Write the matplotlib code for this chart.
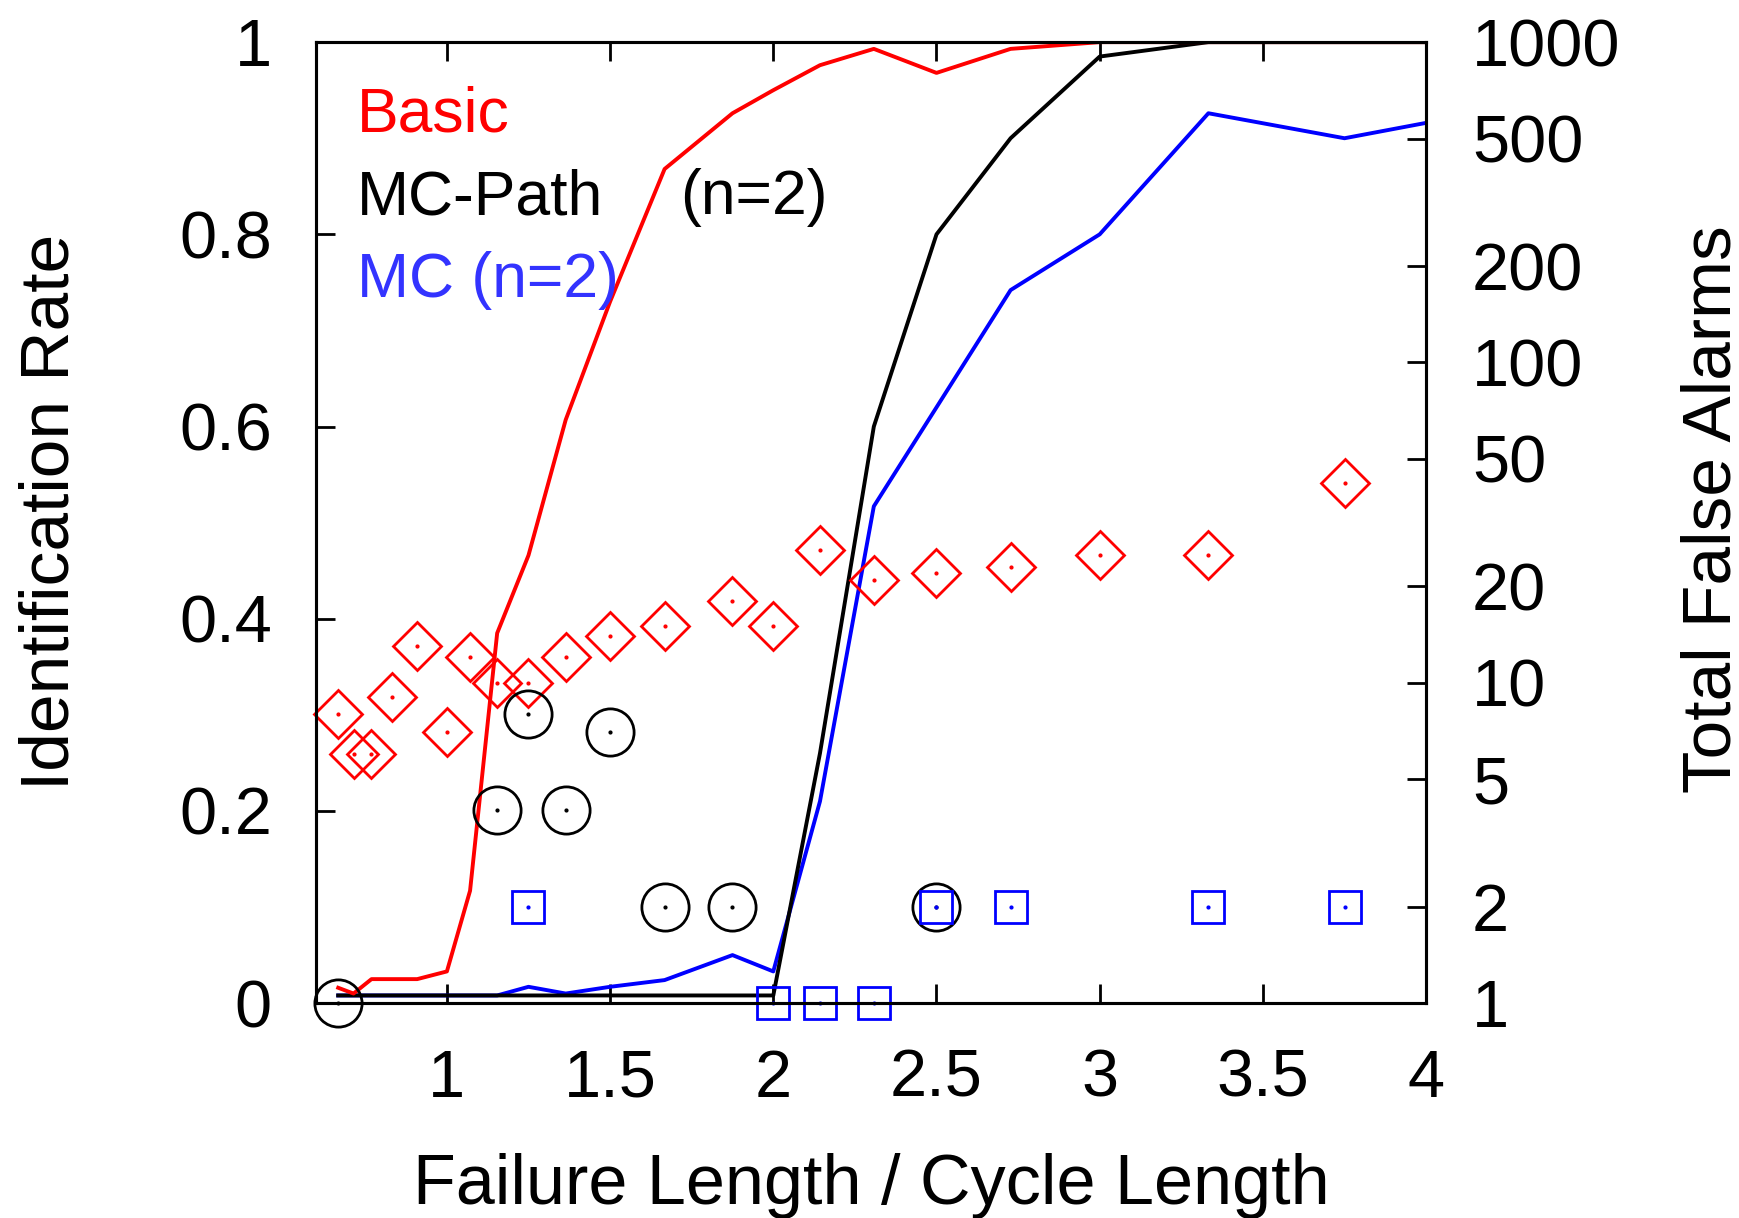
import matplotlib
matplotlib.use("Agg")
import matplotlib.pyplot as plt
from matplotlib.ticker import NullLocator

plt.rcParams['font.family'] = ['Liberation Sans', 'DejaVu Sans']

# x positions (failure length / cycle length) of the runs
fl_ratio = [0.667, 0.714, 0.769, 0.833, 0.909, 1.0, 1.071, 1.154, 1.25, 1.364, 1.5,
            1.667, 1.875, 2.0, 2.143, 2.308, 2.5, 2.727, 3.0, 3.333, 3.75, 4.0]

# identification rate (left axis)
basic_rate = [0.016, 0.010, 0.025, 0.025, 0.025, 0.033, 0.117, 0.385, 0.466, 0.607, 0.73,
              0.868, 0.926, 0.950, 0.976, 0.993, 0.968, 0.993, 1.0, 1.0, 1.0, 1.0]
path_rate = [0.008, 0.008, 0.008, 0.008, 0.008, 0.008, 0.008, 0.008, 0.008, 0.008, 0.008,
             0.008, 0.008, 0.008, 0.26, 0.60, 0.80, 0.90, 0.985, 1.0, 1.0, 1.0]
mc_rate = [0.008, 0.008, 0.008, 0.008, 0.008, 0.008, 0.008, 0.008, 0.017, 0.010, 0.017,
           0.024, 0.050, 0.033, 0.21, 0.517, 0.62, 0.742, 0.80, 0.926, 0.90, 0.916]

# total false alarms (right axis, log)
basic_fa_x = [0.667, 0.714, 0.769, 0.833, 0.909, 1.0, 1.071, 1.154, 1.25, 1.364, 1.5,
              1.667, 1.875, 2.0, 2.143, 2.308, 2.5, 2.727, 3.0, 3.333, 3.75]
basic_fa = [8, 6, 6, 9, 13, 7, 12, 10, 10, 12, 14, 15, 18, 15, 26, 21, 22, 23, 25, 25, 42]
path_fa_x = [0.667, 1.154, 1.25, 1.364, 1.5, 1.667, 1.875, 2.5]
path_fa = [1, 4, 8, 4, 7, 2, 2, 2]
mc_fa_x = [1.25, 2.0, 2.143, 2.308, 2.5, 2.727, 3.333, 3.75]
mc_fa = [2, 1, 1, 1, 2, 2, 2, 2]

x_ticks = [1, 1.5, 2, 2.5, 3, 3.5, 4]
x_labels = ['1', '1.5', '2', '2.5', '3', '3.5', '4']
rate_ticks = [0, 0.2, 0.4, 0.6, 0.8, 1]
rate_labels = ['0', '0.2', '0.4', '0.6', '0.8', '1']
fa_ticks = [1, 2, 5, 10, 20, 50, 100, 200, 500, 1000]
fa_labels = ['1', '2', '5', '10', '20', '50', '100', '200', '500', '1000']

fig = plt.figure(figsize=(17.4, 12.18), dpi=100)
ax = fig.add_axes([0.1818, 0.1764, 0.6378, 0.789])
ax2 = ax.twinx()

# identification rate lines
ax.plot(fl_ratio, mc_rate, color='blue', lw=2.8, zorder=2)
ax.plot(fl_ratio, path_rate, color='black', lw=2.8, zorder=3)
ax.plot(fl_ratio, basic_rate, color='red', lw=2.8, zorder=4)

# false alarm points
ax2.plot(basic_fa_x, basic_fa, ls='none', marker='D', ms=24, mfc='none', mec='red',
         mew=2.0, clip_on=False)
ax2.plot(basic_fa_x, basic_fa, ls='none', marker='o', ms=2, color='red', clip_on=False)
ax2.plot(path_fa_x, path_fa, ls='none', marker='o', ms=34, mfc='none', mec='black',
         mew=2.0, clip_on=False)
ax2.plot(path_fa_x, path_fa, ls='none', marker='o', ms=2, color='black', clip_on=False)
ax2.plot(mc_fa_x, mc_fa, ls='none', marker='s', ms=23, mfc='none', mec='blue',
         mew=2.0, clip_on=False)
ax2.plot(mc_fa_x, mc_fa, ls='none', marker='o', ms=2, color='blue', clip_on=False)

ax.set_xlim(0.6, 4.0)
ax.set_ylim(0, 1)
ax2.set_yscale('log')
ax2.set_ylim(1, 1000)

ax.set_xticks(x_ticks)
ax.set_xticklabels(x_labels)
ax.set_yticks(rate_ticks)
ax.set_yticklabels(rate_labels)
ax2.set_yticks(fa_ticks)
ax2.set_yticklabels(fa_labels)
ax2.yaxis.set_minor_locator(NullLocator())

ax.tick_params(axis='x', direction='in', top=True, length=14, width=2.0, labelsize=48, pad=33)
ax.tick_params(axis='y', direction='in', length=14, width=2.0, labelsize=48, pad=32)
ax2.tick_params(axis='y', direction='in', length=14, width=2.0, labelsize=48, pad=33)
for sp in ax.spines.values():
    sp.set_linewidth(2.2)
for sp in ax2.spines.values():
    sp.set_linewidth(2.2)

ax.set_xlabel('Failure Length / Cycle Length', fontsize=50.5)
ax.xaxis.set_label_coords(0.5, -0.156)
ax.set_ylabel('Identification Rate', fontsize=50)
ax.yaxis.set_label_coords(-0.211, 0.511)
ax2.set_ylabel('Total False Alarms', fontsize=50, rotation=90)
ax2.yaxis.set_label_coords(1.229, 0.514)

# key (text only, like the original)
ax.text(0.0363, 0.9069, 'Basic', color='red', fontsize=45, transform=ax.transAxes,
        va='baseline', zorder=5)
ax.text(0.0363, 0.8209, 'MC-Path', color='black', fontsize=45, transform=ax.transAxes,
        va='baseline', zorder=5)
ax.text(0.3277, 0.8209, '(n=2)', color='black', fontsize=45, transform=ax.transAxes,
        va='baseline', zorder=5)
ax.text(0.0363, 0.7352, 'MC (n=2)', color='#3333ff', fontsize=45, transform=ax.transAxes,
        va='baseline', zorder=5)

fig.savefig('out.png', dpi=100)
